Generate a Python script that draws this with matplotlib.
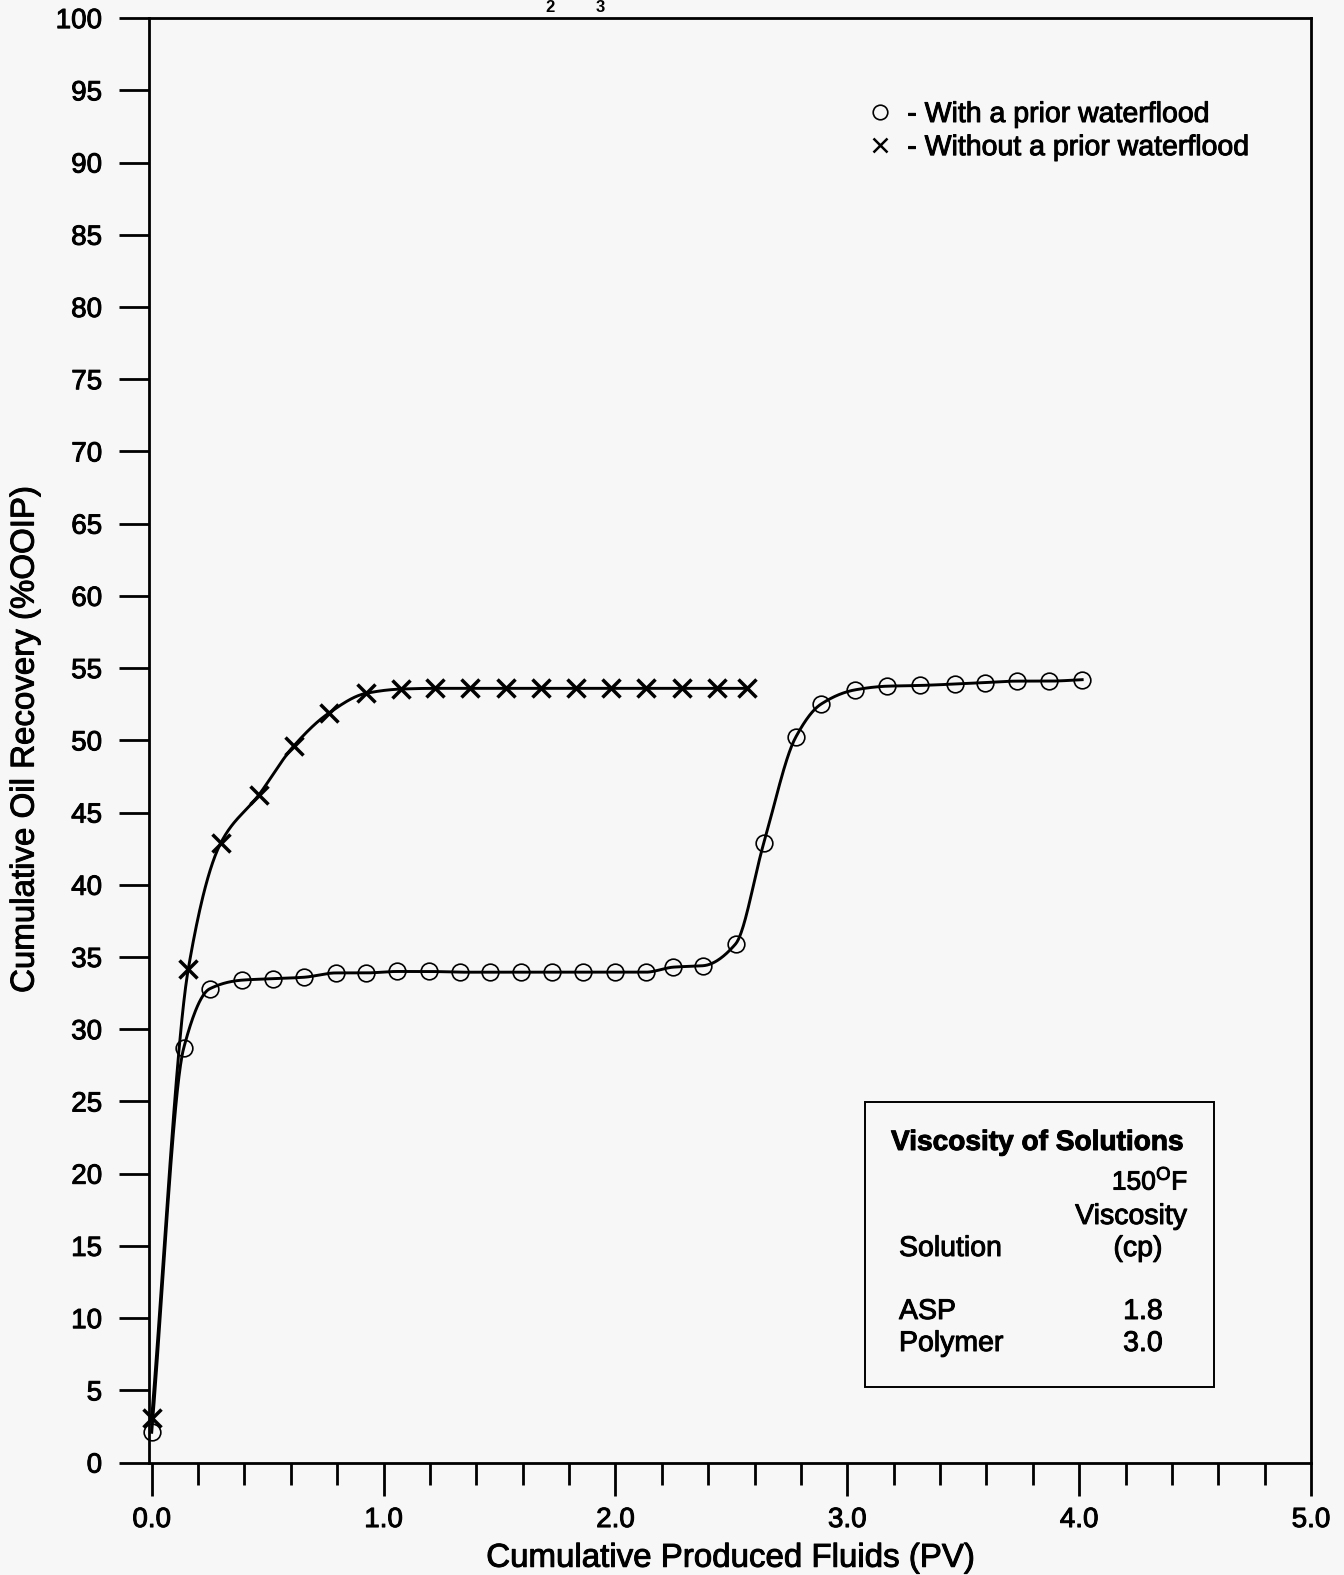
import numpy as np
import matplotlib
matplotlib.use("Agg")
import matplotlib.pyplot as plt
import matplotlib.patheffects as pe
from matplotlib.lines import Line2D
from matplotlib.patches import Rectangle

# ---- data -------------------------------------------------------------
# With a prior waterflood (circles)
pv_with = [0.0, 0.138, 0.25, 0.389, 0.523, 0.657, 0.795, 0.924, 1.058, 1.197,
           1.33, 1.46, 1.594, 1.728, 1.862, 2.0, 2.13, 2.25, 2.379, 2.518,
           2.64, 2.777, 2.886, 3.035, 3.172, 3.314, 3.464, 3.594, 3.731,
           3.87, 4.013]
rec_with = [2.1, 28.7, 32.8, 33.4, 33.5, 33.6, 33.9, 33.9, 34.0, 34.0,
            33.95, 33.95, 33.95, 33.95, 33.95, 33.95, 33.95, 34.3, 34.4, 35.9,
            42.9, 50.2, 52.5, 53.5, 53.75, 53.8, 53.9, 54.0, 54.1,
            54.1, 54.2]

# Without a prior waterflood (crosses)
pv_without = [0.0, 0.158, 0.298, 0.461, 0.612, 0.765, 0.923, 1.074, 1.222,
              1.374, 1.529, 1.68, 1.831, 1.983, 2.134, 2.285, 2.436, 2.566]
rec_without = [3.1, 34.2, 42.9, 46.2, 49.6, 51.9, 53.25, 53.55, 53.6,
               53.6, 53.6, 53.6, 53.6, 53.6, 53.6, 53.6, 53.6, 53.6]

x_major = [0, 1, 2, 3, 4, 5]
x_labels = ["0.0", "1.0", "2.0", "3.0", "4.0", "5.0"]
y_major = list(range(0, 101, 5))

legend_labels = ["- With a prior waterflood", "- Without a prior waterflood"]

visc_title = "Viscosity of Solutions"
visc_solutions = ["ASP", "Polymer"]
visc_values = ["1.8", "3.0"]

# ---- style ------------------------------------------------------------
FONT = "Liberation Sans"
plt.rcParams["font.family"] = [FONT, "DejaVu Sans"]
plt.rcParams["mathtext.fontset"] = "custom"
plt.rcParams["mathtext.rm"] = FONT
plt.rcParams["mathtext.bf"] = FONT + ":bold"
plt.rcParams["mathtext.it"] = FONT + ":italic"
BG = "#f7f7f7"
HEAVY = [pe.withStroke(linewidth=0.7, foreground="black")]

W, H = 1344, 1575


def fx(px):
    return px / W


def fy(py):
    return 1 - py / H


def smooth(x, y, n=40):
    """Monotone cubic Hermite curve through the given points."""
    x = np.asarray(x, float)
    y = np.asarray(y, float)
    h = np.diff(x)
    d = np.diff(y) / h
    m = np.zeros_like(y)
    m[0], m[-1] = d[0], d[-1]
    for k in range(1, len(x) - 1):
        if d[k - 1] * d[k] <= 0:
            m[k] = 0.0
        else:
            w1 = 2 * h[k] + h[k - 1]
            w2 = h[k] + 2 * h[k - 1]
            m[k] = (w1 + w2) / (w1 / d[k - 1] + w2 / d[k])
    xs, ys = [], []
    for k in range(len(x) - 1):
        t = np.linspace(0, 1, n, endpoint=False)
        h00 = 2 * t**3 - 3 * t**2 + 1
        h10 = t**3 - 2 * t**2 + t
        h01 = -2 * t**3 + 3 * t**2
        h11 = t**3 - t**2
        xs.append(x[k] + t * h[k])
        ys.append(h00 * y[k] + h10 * h[k] * m[k] + h01 * y[k + 1] + h11 * h[k] * m[k + 1])
    xs.append([x[-1]])
    ys.append([y[-1]])
    return np.concatenate(xs), np.concatenate(ys)


fig = plt.figure(figsize=(W / 100, H / 100), dpi=100, facecolor=BG)
ax = fig.add_axes([fx(148.7), fy(1462.6), fx(1311) - fx(148.7), (1462.6 - 18.1) / H])
ax.set_facecolor(BG)

# curves
for xs, ys in (smooth(pv_with, rec_with), smooth(pv_without, rec_without)):
    ax.plot(xs, ys, color="black", lw=2.1, zorder=2, clip_on=False)

ax.plot(pv_with, rec_with, ls="none", marker="o", ms=12, mfc="none",
        mec="black", mew=1.2, zorder=3, clip_on=False)
ax.plot(pv_without, rec_without, ls="none", marker="x", ms=12.5,
        mec="black", mew=2.5, zorder=3, clip_on=False)

ax.set_xlim(-0.013, 5.0)
ax.set_ylim(0, 100)

for s in ax.spines.values():
    s.set_linewidth(2.0)
    s.set_color("black")

ax.set_xticks(x_major)
ax.set_xticklabels(x_labels)
ax.set_xticks(np.arange(0, 5.01, 0.2), minor=True)
ax.set_yticks(y_major)
ax.set_yticklabels([str(v) for v in y_major])

ax.tick_params(axis="x", which="major", direction="out", length=24, width=2.0,
               pad=8, labelsize=20)
ax.tick_params(axis="x", which="minor", direction="out", length=16, width=2.0)
ax.tick_params(axis="y", which="major", direction="out", length=21.5, width=2.0,
               pad=12, labelsize=20)
for lab in ax.get_xticklabels() + ax.get_yticklabels():
    lab.set_path_effects(HEAVY)

ax.set_xlabel("Cumulative Produced Fluids (PV)", fontsize=23.8, path_effects=HEAVY)
ax.xaxis.set_label_coords(0.5, -0.0555)
ax.set_ylabel("Cumulative Oil Recovery (%OOIP)", fontsize=23.8, path_effects=HEAVY)
ax.yaxis.set_label_coords(-0.093, 0.5)

# legend
handles = [
    Line2D([], [], ls="none", marker="o", ms=10.5, mfc="none", mec="black", mew=1.2),
    Line2D([], [], ls="none", marker="x", ms=9.5, mec="black", mew=1.8),
]
leg = fig.legend(handles, legend_labels, loc="upper left",
                 bbox_to_anchor=(fx(866), fy(102)), frameon=False,
                 fontsize=20.5, handlelength=1.0, handletextpad=0.45,
                 borderpad=0, borderaxespad=0, labelspacing=0.25)
for t in leg.get_texts():
    t.set_path_effects(HEAVY)

# viscosity table
fig.patches.append(Rectangle((fx(865), fy(1387)), fx(1213.5) - fx(865),
                             (1387 - 1102) / H, transform=fig.transFigure,
                             fill=False, lw=1.4, ec="black", zorder=5))
tkw = dict(fontsize=20.5, va="center", path_effects=HEAVY)
fig.text(fx(891), fy(1143), visc_title, fontsize=20.2, fontweight="bold",
         ha="left", va="center", path_effects=HEAVY)
fig.text(fx(1150), fy(1181), r"150$^{\mathrm{O}}$F", ha="center",
         **{**tkw, "fontsize": 19})
fig.text(fx(1131), fy(1217), "Viscosity", ha="center", **tkw)
fig.text(fx(899), fy(1249), "Solution", ha="left", **tkw)
fig.text(fx(1138), fy(1249), "(cp)", ha="center", **tkw)
for (name, val), ypx in zip(zip(visc_solutions, visc_values), (1312, 1344)):
    fig.text(fx(899), fy(ypx), name, ha="left", **tkw)
    fig.text(fx(1143), fy(ypx), val, ha="center", **tkw)

# subscripts of the chart title line at the top edge
fig.text(fx(550), fy(12.5), "2", fontsize=12, fontweight="bold", ha="center", va="baseline")
fig.text(fx(600), fy(12.5), "3", fontsize=12, fontweight="bold", ha="center", va="baseline")

fig.savefig("out.png", dpi=100, facecolor=BG)
